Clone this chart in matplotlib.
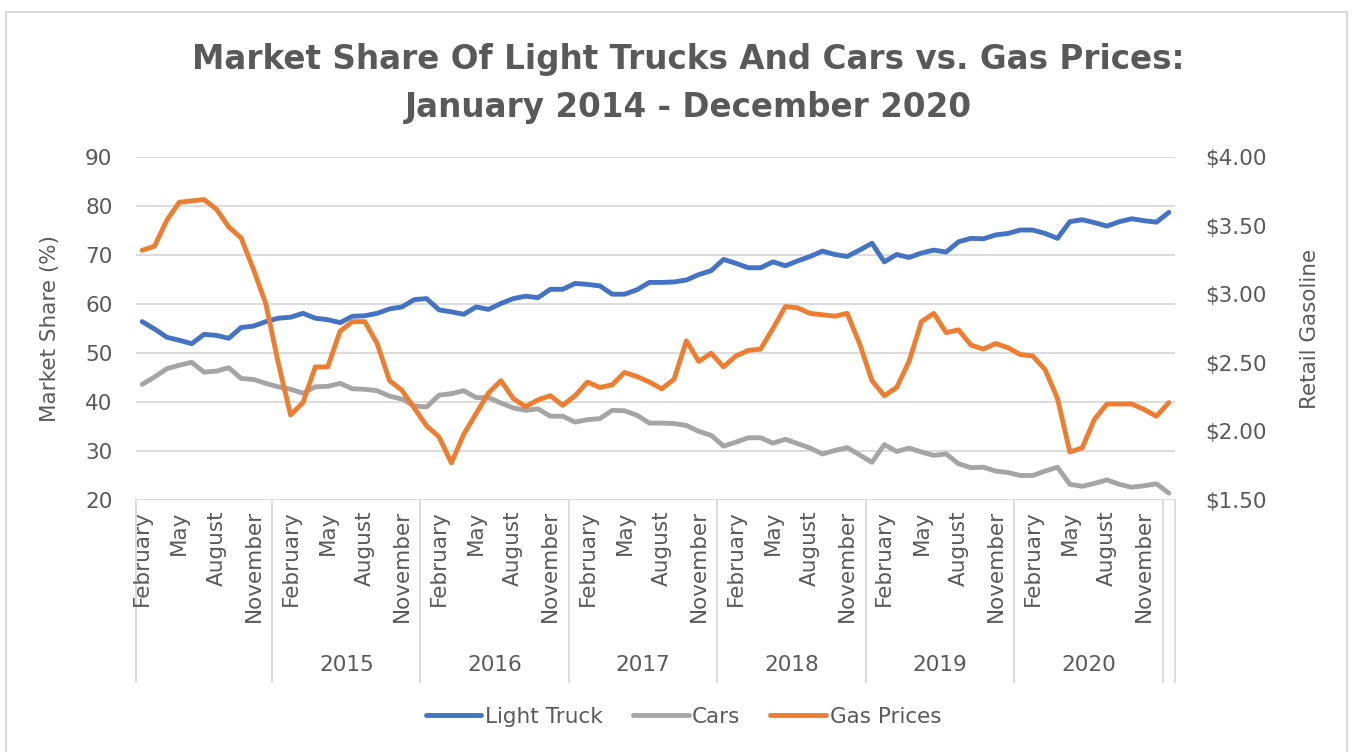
import matplotlib
matplotlib.use("Agg")
import matplotlib.pyplot as plt
import numpy as np
from matplotlib.patches import Rectangle
from matplotlib.ticker import FuncFormatter

# monthly data, 84 points (first category label reads "February")
light_truck = [56.4, 54.9, 53.2, 52.6, 51.9, 53.8, 53.6, 53.0, 55.2, 55.5,
               56.4, 57.1, 57.3, 58.1, 57.1, 56.8, 56.2, 57.5, 57.6, 58.1,
               59.0, 59.4, 60.9, 61.1, 58.8, 58.4, 57.9, 59.4, 58.9, 60.1,
               61.1, 61.6, 61.3, 63.0, 63.0, 64.2, 64.0, 63.7, 62.0, 62.0,
               62.9, 64.4, 64.4, 64.5, 64.9, 66.0, 66.8, 69.1, 68.3, 67.4,
               67.4, 68.6, 67.8, 68.8, 69.7, 70.8, 70.1, 69.7, 71.0, 72.4,
               68.6, 70.1, 69.5, 70.4, 71.0, 70.6, 72.7, 73.4, 73.3, 74.1,
               74.4, 75.1, 75.1, 74.4, 73.4, 76.8, 77.2, 76.6, 75.9, 76.8,
               77.4, 77.0, 76.7, 78.7]
cars = [43.6, 45.1, 46.8, 47.5, 48.1, 46.1, 46.3, 47.0, 44.8, 44.6,
        43.8, 43.1, 42.6, 41.8, 43.1, 43.2, 43.8, 42.7, 42.6, 42.3,
        41.2, 40.6, 39.2, 39.0, 41.4, 41.7, 42.3, 40.9, 40.9, 39.8,
        38.8, 38.3, 38.6, 37.1, 37.1, 35.9, 36.4, 36.6, 38.3, 38.2,
        37.3, 35.7, 35.7, 35.6, 35.2, 34.0, 33.2, 31.0, 31.8, 32.7,
        32.7, 31.6, 32.4, 31.5, 30.6, 29.4, 30.1, 30.7, 29.2, 27.7,
        31.3, 29.9, 30.6, 29.8, 29.1, 29.4, 27.4, 26.6, 26.7, 25.9,
        25.6, 25.0, 25.0, 25.9, 26.7, 23.2, 22.8, 23.4, 24.1, 23.2,
        22.6, 22.9, 23.3, 21.4]
gas = [3.32, 3.35, 3.54, 3.67, 3.68, 3.69, 3.62, 3.49, 3.41, 3.18,
       2.93, 2.50, 2.12, 2.21, 2.47, 2.47, 2.73, 2.80, 2.80, 2.64,
       2.37, 2.30, 2.17, 2.04, 1.96, 1.77, 1.98, 2.13, 2.28, 2.37,
       2.24, 2.18, 2.23, 2.26, 2.19, 2.26, 2.36, 2.32, 2.34, 2.43,
       2.40, 2.36, 2.31, 2.38, 2.66, 2.51, 2.57, 2.47, 2.55, 2.59,
       2.60, 2.75, 2.91, 2.90, 2.86, 2.85, 2.84, 2.86, 2.64, 2.37,
       2.26, 2.32, 2.51, 2.80, 2.86, 2.72, 2.74, 2.63, 2.60, 2.64,
       2.61, 2.56, 2.55, 2.45, 2.24, 1.85, 1.88, 2.09, 2.20, 2.20,
       2.20, 2.16, 2.11, 2.21]

month_names = ["January", "February", "March", "April", "May", "June", "July",
               "August", "September", "October", "November", "December"]
months = [month_names[(i + 1) % 12] for i in range(len(gas))]
year_labels = ["", "2015", "2016", "2017", "2018", "2019", "2020", ""]
year_sizes = [11, 12, 12, 12, 12, 12, 12, 1]

TXT = "#595959"
GRID = "#d9d9d9"

plt.rcParams["font.family"] = ["DejaVu Sans"]

fig = plt.figure(figsize=(13.53, 7.52), dpi=100)
ax = fig.add_axes([136 / 1353, 1 - 500 / 752, 1039 / 1353, 343 / 752])
ax2 = ax.twinx()

x = np.arange(len(gas))
ax.plot(x, light_truck, color="#4472C4", lw=3.5, solid_capstyle="round",
        solid_joinstyle="round", label="Light Truck")
ax.plot(x, cars, color="#A5A5A5", lw=3.5, solid_capstyle="round",
        solid_joinstyle="round", label="Cars")
ax2.plot(x, gas, color="#ED7D31", lw=3.5, solid_capstyle="round",
         solid_joinstyle="round", label="Gas Prices")

ax.set_xlim(-0.5, len(gas) - 0.5)
ax.set_ylim(20, 90)
ax.set_yticks(range(20, 91, 10))
ax2.set_ylim(1.5, 4.0)
ax2.set_yticks(np.arange(1.5, 4.01, 0.5))
ax2.yaxis.set_major_formatter(FuncFormatter(lambda v, p: "${:.2f}".format(v)))

ax.grid(axis="y", color=GRID, lw=1.3)
ax.set_axisbelow(True)
ax.set_xticks([])
for a in (ax, ax2):
    for s in a.spines.values():
        s.set_visible(False)
ax.tick_params(axis="y", length=0, pad=17, labelsize=15.5, labelcolor=TXT)
ax2.tick_params(axis="y", length=0, pad=22, labelsize=15.5, labelcolor=TXT)

ax.set_ylabel("Market Share (%)", fontsize=15.5, color=TXT)
ax.yaxis.set_label_coords(-0.073, 0.5)
ax2.set_ylabel("Retail Gasoline", fontsize=15.5, color=TXT, rotation=90)
ax2.yaxis.set_label_coords(1.12, 0.5)

# multi-level category axis
tr = ax.get_xaxis_transform()
for i in range(0, len(months), 3):
    ax.text(i, -0.03, months[i], transform=tr, rotation=90, ha="center",
            va="top", fontsize=15.5, color=TXT)
start = -0.5
bounds = [start]
for lab, n in zip(year_labels, year_sizes):
    end = start + n
    if lab:
        ax.text((start + end) / 2, -0.481, lab, transform=tr, ha="center",
                va="center", fontsize=15.5, color=TXT)
    bounds.append(end)
    start = end
for b in bounds:
    ax.plot([b, b], [0, -0.53], transform=tr, color=GRID, lw=1.3, clip_on=False)

fig.text(0.5086, 0.921, "Market Share Of Light Trucks And Cars vs. Gas Prices:",
         ha="center", va="center", fontsize=23.5, fontweight="bold", color=TXT)
fig.text(0.5086, 0.857, "January 2014 - December 2020",
         ha="center", va="center", fontsize=23.5, fontweight="bold", color=TXT)

h1, l1 = ax.get_legend_handles_labels()
h2, l2 = ax2.get_legend_handles_labels()
fig.legend(h1 + h2, l1 + l2, loc="center", bbox_to_anchor=(0.505, 0.0465),
           ncol=3, frameon=False, fontsize=15.5, labelcolor=TXT,
           handlelength=2.6, handletextpad=0.15, columnspacing=1.4)

fig.patches.append(Rectangle((6 / 1353, -0.01), 1341 / 1353, 0.994,
                             transform=fig.transFigure, fill=False,
                             edgecolor=GRID, lw=1.5))

fig.savefig("out.png", dpi=100, facecolor="white")
